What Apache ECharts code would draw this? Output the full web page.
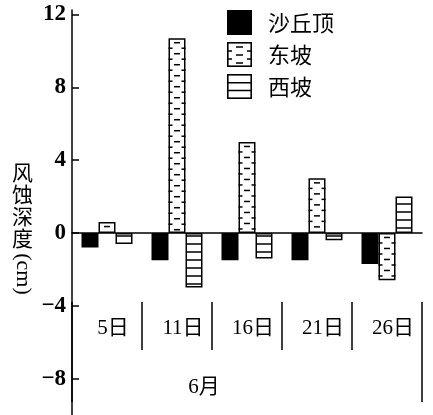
<!DOCTYPE html>
<html>
<head>
<meta charset="utf-8">
<script src="https://cdn.jsdelivr.net/npm/echarts@6/dist/echarts.min.js"></script>
<style>
html,body{margin:0;padding:0;background:#fff;}
#c{width:433px;height:415px;}
</style>
</head>
<body>
<div id="c"></div>
<script>
// ---- data ----
const days = ['5日', '11日', '16日', '21日', '26日'];
const monthLabel = '6月';
const seriesNames = ['沙丘顶', '东坡', '西坡'];
const duneTop = [-0.8, -1.5, -1.5, -1.5, -1.7];
const eastSlope = [0.6, 10.7, 5.0, 3.0, -2.6];
const westSlope = [-0.6, -3.0, -1.4, -0.4, 2.0];
const yTicks = [-8, -4, 0, 4, 8, 12];
const yName = ['风', '蚀', '深', '度'];
const yUnit = '(cm)';

// ---- styles ----
const BAR_W = 17;
const LW = 1.5;
const SERIF = "'Liberation Serif', 'Noto Sans CJK SC', serif";
const CJK = "'Noto Sans CJK SC', sans-serif";

function makeCanvas(w, h, draw) {
  const c = document.createElement('canvas');
  c.width = w; c.height = h;
  const ctx = c.getContext('2d');
  draw(ctx, w, h);
  return c;
}
// horizontal line pattern for west slope
const westPattern = makeCanvas(4, 8, (ctx, w, h) => {
  ctx.fillStyle = '#fff'; ctx.fillRect(0, 0, w, h);
  ctx.fillStyle = '#000'; ctx.fillRect(0, 3.25, w, 1.5);
});
// legend icons
function iconBox(draw) {
  return 'image://' + makeCanvas(25, 25, (ctx, w, h) => {
    ctx.fillStyle = '#fff'; ctx.fillRect(0, 0, w, h);
    draw(ctx, w, h);
  }).toDataURL();
}
const iconTop = iconBox((ctx, w, h) => { ctx.fillStyle = '#000'; ctx.fillRect(0, 0, w, h); });
const iconEast = iconBox((ctx, w, h) => {
  ctx.strokeStyle = '#000'; ctx.lineWidth = 1.6;
  ctx.strokeRect(0.8, 0.8, w - 1.6, h - 1.6);
  ctx.beginPath();
  [5, 13, 21].forEach(y => { ctx.moveTo(9, y); ctx.lineTo(16, y); });
  [9, 17].forEach(y => { ctx.moveTo(0, y); ctx.lineTo(5, y); ctx.moveTo(20, y); ctx.lineTo(25, y); });
  ctx.stroke();
});
const iconWest = iconBox((ctx, w, h) => {
  ctx.strokeStyle = '#000'; ctx.lineWidth = 1.6;
  ctx.strokeRect(0.8, 0.8, w - 1.6, h - 1.6);
  ctx.beginPath();
  [8.7, 16.5].forEach(y => { ctx.moveTo(0, y); ctx.lineTo(25, y); });
  ctx.stroke();
});

const chart = echarts.init(document.getElementById('c'), null, { renderer: 'canvas' });

const option = {
  backgroundColor: '#fff',
  animation: false,
  grid: { left: 72, right: 11, top: 10, bottom: 0 },
  legend: {
    orient: 'vertical', left: 222, top: 5,
    itemWidth: 25, itemHeight: 25, itemGap: 7,
    selectedMode: false,
    textStyle: { fontFamily: CJK, fontSize: 22, color: '#000', padding: [0, 0, 0, 11] },
    data: [
      { name: seriesNames[0], icon: iconTop },
      { name: seriesNames[1], icon: iconEast },
      { name: seriesNames[2], icon: iconWest }
    ]
  },
  xAxis: [
    {
      type: 'category', data: days,
      axisLine: { onZero: true, lineStyle: { color: '#000', width: LW } },
      axisTick: { inside: true, length: 5, lineStyle: { color: '#000', width: LW } },
      axisLabel: { show: false },
      splitLine: { show: false }
    },
    {
      type: 'category', data: days, position: 'bottom', offset: -113,
      axisLine: { show: false, onZero: false },
      axisTick: { show: true, length: 48, lineStyle: { color: '#000', width: LW } },
      axisLabel: {
        interval: 0, margin: 16,
        fontFamily: SERIF, fontSize: 21, color: '#000',
        padding: [0, 0, 0, 12]
      },
      name: monthLabel, nameLocation: 'middle', nameGap: 75,
      nameTextStyle: { fontFamily: SERIF, fontSize: 21, color: '#000', padding: [0, 86, 0, 0] },
      splitLine: { show: false }
    },
    {
      type: 'category', data: [''], position: 'bottom', offset: -113,
      axisLine: { show: false, onZero: false },
      axisTick: { show: true, length: 100, lineStyle: { color: '#000', width: LW } },
      axisLabel: { show: false },
      splitLine: { show: false }
    }
  ],
  yAxis: {
    type: 'value', min: -10, max: 12.25,
    axisLine: { show: true, lineStyle: { color: '#000', width: LW } },
    axisTick: { show: true, inside: true, length: 7, customValues: yTicks, lineStyle: { color: '#000', width: LW } },
    axisLabel: {
      customValues: yTicks, margin: 6,
      fontFamily: SERIF, fontSize: 23, fontWeight: 'bold', color: '#000',
      formatter: v => String(v).replace('-', '\u2212')
    },
    splitLine: { show: false },
    name: yName.join('\n') + '\n{s| }', nameLocation: 'middle', nameRotate: 0, nameGap: 39,
    nameTextStyle: {
      fontFamily: CJK, fontSize: 21, lineHeight: 22, color: '#000',
      rich: { s: { fontSize: 10, lineHeight: 15, height: 15 } }
    }
  },
  graphic: [
    {
      type: 'text', x: 23, y: 274, rotation: -Math.PI / 2,
      style: { text: yUnit, fontFamily: SERIF, fontSize: 22, fill: '#000', align: 'center', verticalAlign: 'middle' }
    }
  ],
  series: [
    {
      name: seriesNames[0], type: 'bar', data: duneTop,
      barWidth: BAR_W, barGap: '0%',
      itemStyle: { color: '#000', borderColor: '#000', borderWidth: LW }
    },
    {
      name: seriesNames[1], type: 'bar', data: eastSlope,
      barWidth: BAR_W, barGap: '0%',
      itemStyle: { color: '#fff', borderColor: '#000', borderWidth: LW }
    },
    {
      name: seriesNames[2], type: 'bar', data: westSlope,
      barWidth: BAR_W, barGap: '0%',
      itemStyle: { color: { image: westPattern, repeat: 'repeat' }, borderColor: '#000', borderWidth: LW }
    },
    {
      name: seriesNames[1], type: 'custom', silent: true, z: 5,
      data: eastSlope.map((v, i) => [i, v]),
      encode: { x: 0, y: 1 },
      renderItem: function (params, api) {
        const i = api.value(0), v = api.value(1);
        const p0 = api.coord([i, 0]);
        const p1 = api.coord([i, v]);
        const x0 = p0[0] - BAR_W / 2, x1 = p0[0] + BAR_W / 2;
        const top = Math.min(p0[1], p1[1]), bot = Math.max(p0[1], p1[1]);
        const children = [];
        const st = { stroke: '#000', lineWidth: LW };
        for (let y = top + 4.5; y < bot - 1.5; y += 11) {
          children.push({ type: 'line', shape: { x1: x0 + 5.5, y1: y, x2: x1 - 5.5, y2: y }, style: st });
        }
        for (let y = top + 10; y < bot - 1.5; y += 11) {
          children.push({ type: 'line', shape: { x1: x0, y1: y, x2: x0 + 4, y2: y }, style: st });
          children.push({ type: 'line', shape: { x1: x1 - 4, y1: y, x2: x1, y2: y }, style: st });
        }
        return { type: 'group', children: children };
      }
    }
  ]
};
chart.setOption(option);
</script>
</body>
</html>
